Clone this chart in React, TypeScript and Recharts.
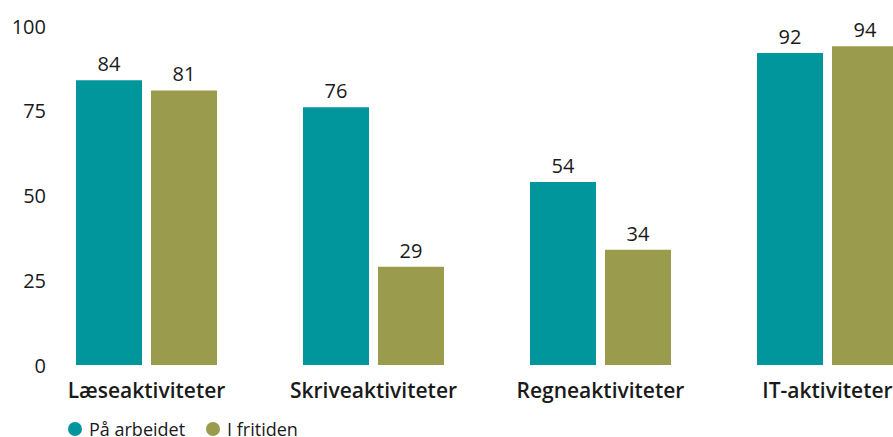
import React from 'react';
import { BarChart, Bar, XAxis, YAxis, LabelList, Legend } from 'recharts';

const categories = ['Læseaktiviteter', 'Skriveaktiviteter', 'Regneaktiviteter', 'IT-aktiviteter'];
const paaArbeidet = [84, 76, 54, 92];
const iFritiden = [81, 29, 34, 94];
const yTicks = [0, 25, 50, 75, 100];
const seriesNames = ['På arbeidet', 'I fritiden'];
const colors = ['#00969b', '#9b9b4e'];

const data = categories.map((c, i) => ({ name: c, a: paaArbeidet[i], b: iFritiden[i] }));
const FONT = '"Open Sans", sans-serif';
const TEXT = '#1a1a1a';

const YTick = (props: any) => {
  const { y, payload } = props;
  return (
    <text x={46} y={y} textAnchor="end" dominantBaseline="central" fontFamily={FONT} fontSize={20} fill={TEXT}>
      {payload.value}
    </text>
  );
};

const XTick = (props: any) => {
  const { x, y, payload } = props;
  return (
    <text x={x} y={y + 17} textAnchor="middle" dominantBaseline="central" fontFamily={FONT} fontSize={21} fontWeight={600} fill={TEXT}>
      {payload.value}
    </text>
  );
};

const LegendContent = () => (
  <div style={{ display: 'flex', alignItems: 'center', fontFamily: FONT, fontSize: 18, color: TEXT, whiteSpace: 'nowrap', lineHeight: '14px', height: 14 }}>
    {seriesNames.map((n, i) => (
      <div key={n} style={{ display: 'flex', alignItems: 'center', marginRight: 21 }}>
        <span style={{ display: 'inline-block', width: 14, height: 14, borderRadius: '50%', background: colors[i], marginRight: 7 }} />
        <span>{n}</span>
      </div>
    ))}
  </div>
);

export default function App() {
  return (
    <div style={{ position: 'absolute', left: 0, top: 0, width: 893, height: 437, overflow: 'hidden', background: '#fff' }}>
      <BarChart
        width={945}
        height={437}
        data={data}
        margin={{ top: 26, right: 4, left: 0, bottom: 0 }}
        barSize={66}
        barGap={9}
      >
        <XAxis dataKey="name" height={72} axisLine={false} tickLine={false} tick={<XTick />} interval={0} />
        <YAxis width={33} domain={[0, 100]} ticks={yTicks} axisLine={false} tickLine={false} tick={<YTick />} />
        <Legend
          layout="vertical"
          align="center"
          verticalAlign="middle"
          content={<LegendContent />}
          wrapperStyle={{ left: 68, top: 422, width: 'auto', height: 'auto' }}
        />
        <Bar dataKey="a" name={seriesNames[0]} fill={colors[0]} isAnimationActive={false}>
          <LabelList dataKey="a" position="top" offset={9} fontFamily={FONT} fontSize={20} fill={TEXT} />
        </Bar>
        <Bar dataKey="b" name={seriesNames[1]} fill={colors[1]} isAnimationActive={false}>
          <LabelList dataKey="b" position="top" offset={9} fontFamily={FONT} fontSize={20} fill={TEXT} />
        </Bar>
      </BarChart>
    </div>
  );
}
